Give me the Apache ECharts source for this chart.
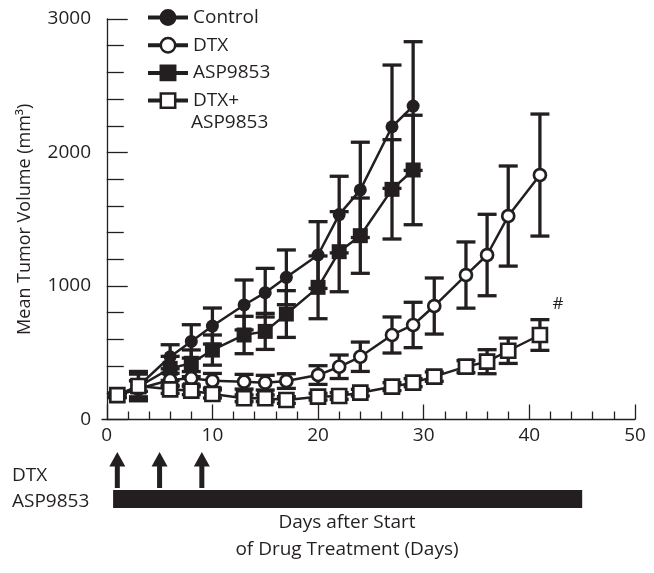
<!DOCTYPE html>
<html><head><meta charset="utf-8">
<script src="https://cdn.jsdelivr.net/npm/echarts@6/dist/echarts.min.js"></script>
<style>html,body{margin:0;padding:0;background:#fff}#c{width:654px;height:573px}</style>
</head><body><div id="c"></div>
<script>
// ---- data ----
const seriesNames = ['Control', 'DTX', 'ASP9853', 'DTX+ASP9853'];
const daysShort = [1, 3, 6, 8, 10, 13, 15, 17, 20, 22, 24, 27, 29];
const daysLong = [1, 3, 6, 8, 10, 13, 15, 17, 20, 22, 24, 27, 29, 31, 34, 36, 38, 41];
const controlMean = [180, 250, 470, 585, 700, 858, 950, 1065, 1232, 1535, 1720, 2193, 2348];
const controlSE = [15, 110, 90, 125, 135, 187, 182, 205, 250, 287, 357, 462, 482];
const aspMean = [180, 245, 383, 421, 520, 633, 660, 790, 990, 1257, 1377, 1724, 1869];
const aspSE = [15, 95, 90, 100, 113, 140, 135, 175, 235, 300, 282, 372, 410];
const dtxMean = [180, 230, 296, 309, 290, 283, 276, 288, 333, 395, 470, 633, 708, 850, 1082, 1232, 1524, 1831];
const dtxSE = [15, 60, 50, 50, 55, 55, 55, 55, 70, 88, 110, 135, 170, 210, 248, 305, 375, 457];
const comboMean = [183, 251, 226, 216, 191, 159, 159, 146, 171, 176, 201, 246, 276, 321, 396, 433, 515, 633];
const comboSE = [15, 40, 30, 30, 30, 25, 25, 25, 25, 25, 25, 30, 30, 35, 45, 90, 95, 115];
const xMajorTicks = [0, 10, 20, 30, 40, 50];
const xMinorTicks = [2, 4, 6, 8, 12, 14, 16, 18, 22, 24, 26, 28, 32, 34, 36, 38, 42, 44, 46, 48];
const dtxDoseDays = [1, 5, 9];
const aspDosing = [[0.6, 45]];
const annotationText = '#';
const yTitle = 'Mean Tumor Volume (mm³)';
const xTitle = ['Days after Start', 'of Drug Treatment (Days)'];
const scheduleLabels = ['DTX', 'ASP9853'];

// ---- styles ----
const INK = '#231f20';
const FONT = '"Open Sans", "Noto Sans", sans-serif';
const FS = 19;

function pairs(days, vals) { return days.map((d, i) => [d, vals[i]]); }

function errSeries(days, mean, se) {
  return {
    type: 'custom', xAxisIndex: 0, yAxisIndex: 0, z: 1, silent: true,
    data: days.map((d, i) => [d, mean[i] - se[i], mean[i] + se[i]]),
    encode: { x: 0, y: [1, 2] },
    renderItem: function (params, api) {
      const lo = api.coord([api.value(0), api.value(1)]);
      const hi = api.coord([api.value(0), api.value(2)]);
      const hw = 9.5;
      const st = { stroke: INK, lineWidth: 3.3, fill: null };
      return { type: 'group', children: [
        { type: 'line', shape: { x1: lo[0], y1: lo[1], x2: hi[0], y2: hi[1] }, style: st },
        { type: 'line', shape: { x1: lo[0] - hw, y1: lo[1], x2: lo[0] + hw, y2: lo[1] }, style: st },
        { type: 'line', shape: { x1: hi[0] - hw, y1: hi[1], x2: hi[0] + hw, y2: hi[1] }, style: st }
      ]};
    }
  };
}

function lineSeries(name, days, mean, symbol, size, filled) {
  return {
    type: 'line', name: name, xAxisIndex: 0, yAxisIndex: 0, z: 3,
    data: pairs(days, mean),
    symbol: symbol, symbolSize: size, showAllSymbol: true,
    lineStyle: { color: INK, width: 2.5 },
    itemStyle: filled ? { color: INK, borderColor: INK, borderWidth: 0 }
                      : { color: '#fff', borderColor: INK, borderWidth: 2.7 },
    emphasis: { disabled: true }
  };
}

const comboLine = lineSeries('DTX+ASP9853', daysLong, comboMean, 'rect', 14, false);
const lastIdx = daysLong.length - 1;
comboLine.markPoint = {
  symbol: 'circle', symbolSize: 0, silent: true,
  data: [{ coord: [daysLong[lastIdx], comboMean[lastIdx]] }],
  label: { show: true, formatter: annotationText, offset: [18, -31], fontSize: 17, color: INK, fontFamily: FONT }
};

const chart = echarts.init(document.getElementById('c'), null, { renderer: 'canvas' });
chart.setOption({
  animation: false,
  backgroundColor: '#fff',
  grid: [
    { left: 102, right: 19, top: 19, bottom: 153.5 },
    { left: 102, right: 19, top: 452, height: 60 }
  ],
  xAxis: [
    { type: 'value', gridIndex: 0, min: -0.45, max: 50,
      axisLine: { show: true, onZero: false, lineStyle: { color: INK, width: 1.3 } },
      axisTick: { show: true, inside: true, length: 15, customValues: xMajorTicks, lineStyle: { color: INK, width: 1.3 } },
      axisLabel: { show: true, customValues: xMajorTicks, margin: 7, fontSize: FS, color: INK, fontFamily: FONT },
      splitLine: { show: false } },
    { type: 'value', gridIndex: 0, position: 'bottom', min: -0.45, max: 50,
      axisLine: { show: false },
      axisTick: { show: true, inside: true, length: 8, customValues: xMinorTicks, lineStyle: { color: INK, width: 1.3 } },
      axisLabel: { show: false },
      splitLine: { show: false } },
    { type: 'value', gridIndex: 1, min: -0.45, max: 50, show: false }
  ],
  yAxis: [
    { type: 'value', gridIndex: 0, min: 0, max: 3000, interval: 1000,
      name: yTitle, nameLocation: 'middle', nameGap: 68, nameRotate: 90,
      nameTextStyle: { fontSize: 18, color: INK, fontFamily: FONT },
      axisLine: { show: true, lineStyle: { color: INK, width: 1.3 } },
      axisTick: { show: true, inside: true, length: 21, lineStyle: { color: INK, width: 1.3 } },
      minorTick: { show: true, splitNumber: 5, length: 17, lineStyle: { color: INK, width: 1.3 } },
      axisLabel: { margin: 11, fontSize: FS, color: INK, fontFamily: FONT, formatter: function (v) { return String(v); } },
      splitLine: { show: false } },
    { type: 'value', gridIndex: 1, min: 0, max: 1, show: false }
  ],
  legend: {
    data: seriesNames, orient: 'vertical', left: 146, top: 8, padding: 0,
    itemWidth: 40, itemHeight: 18, itemGap: 8.7,
    selectedMode: false,
    formatter: function (n) { return n === 'DTX+ASP9853' ? 'DTX+' : n; },
    textStyle: { fontSize: FS, lineHeight: 18, color: INK, fontFamily: FONT },
    lineStyle: { width: 4 },
    itemStyle: { borderWidth: 2.5 }
  },
  graphic: [
    { type: 'text', x: 191, y: 123, style: { text: 'ASP9853', align: 'left', verticalAlign: 'middle', font: FS + 'px ' + FONT, fill: INK } },
    { type: 'text', x: 12, y: 476, style: { text: scheduleLabels[0], align: 'left', verticalAlign: 'middle', font: FS + 'px ' + FONT, fill: INK } },
    { type: 'text', x: 12, y: 502, style: { text: scheduleLabels[1], align: 'left', verticalAlign: 'middle', font: FS + 'px ' + FONT, fill: INK } },
    { type: 'text', x: 347, y: 523, style: { text: xTitle[0], align: 'center', verticalAlign: 'middle', font: FS + 'px ' + FONT, fill: INK } },
    { type: 'text', x: 347, y: 550, style: { text: xTitle[1], align: 'center', verticalAlign: 'middle', font: FS + 'px ' + FONT, fill: INK } }
  ],
  series: [
    errSeries(daysShort, controlMean, controlSE),
    errSeries(daysShort, aspMean, aspSE),
    errSeries(daysLong, dtxMean, dtxSE),
    errSeries(daysLong, comboMean, comboSE),
    lineSeries('Control', daysShort, controlMean, 'circle', 13, true),
    lineSeries('ASP9853', daysShort, aspMean, 'rect', 15, true),
    lineSeries('DTX', daysLong, dtxMean, 'circle', 12, false),
    comboLine,
    { type: 'custom', xAxisIndex: 2, yAxisIndex: 1, silent: true,
      data: dtxDoseDays.map(d => [d, 0]),
      renderItem: function (params, api) {
        const x = api.coord([api.value(0), 0])[0];
        const t = params.coordSys.y;
        return { type: 'polygon', shape: { points: [
          [x, t], [x + 8, t + 14.5], [x + 2.5, t + 14.5], [x + 2.5, t + 36],
          [x - 2.5, t + 36], [x - 2.5, t + 14.5], [x - 8, t + 14.5]] },
          style: { fill: INK } };
      } },
    { type: 'custom', xAxisIndex: 2, yAxisIndex: 1, silent: true,
      data: aspDosing,
      renderItem: function (params, api) {
        const x0 = api.coord([api.value(0), 0])[0];
        const x1 = api.coord([api.value(1), 0])[0];
        const t = params.coordSys.y;
        return { type: 'rect', shape: { x: x0, y: t + 38, width: x1 - x0, height: 18 }, style: { fill: INK } };
      } }
  ]
});
</script></body></html>
